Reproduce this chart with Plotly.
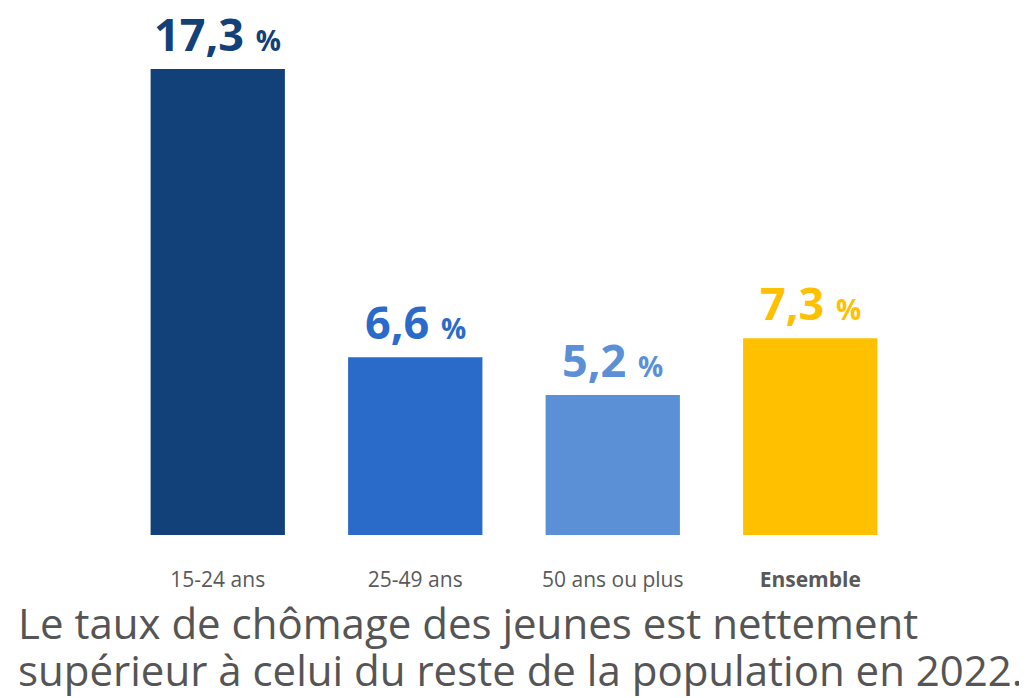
import plotly.graph_objects as go

categories = ["15-24 ans", "25-49 ans", "50 ans ou plus", "Ensemble"]
tick_labels = ["15-24 ans", "25-49 ans", "50 ans ou plus", "<b>Ensemble</b>"]
values = [17.3, 6.6, 5.2, 7.3]
value_labels = ["17,3", "6,6", "5,2", "7,3"]
colors = ["#124078", "#2a6bca", "#5b8fd6", "#ffc000"]
caption_lines = [
    "Le taux de chômage des jeunes est nettement",
    "supérieur à celui du reste de la population en 2022.",
]

fig = go.Figure()
fig.add_trace(go.Bar(
    x=categories, y=values, marker=dict(color=colors, line=dict(width=0)),
    width=0.68, hoverinfo="skip",
))

for c, v, lab, col in zip(categories, values, value_labels, colors):
    fig.add_annotation(
        x=c, y=v, xref="x", yref="y", yanchor="bottom", yshift=3, showarrow=False,
        text=f"<b>{lab}</b> <b><span style='font-size:28px'>%</span></b>",
        font=dict(family="Open Sans", size=45, color=col),
    )

for i, line in enumerate(caption_lines):
    fig.add_annotation(
        x=0, y=0, xref="paper", yref="paper", xanchor="left", yanchor="middle",
        xshift=-103, yshift=-87 - 47 * i, showarrow=False, align="left",
        text=line, font=dict(family="Open Sans", size=42, color="#555555"),
    )

fig.update_layout(
    width=1019, height=690,
    margin=dict(l=111, r=118, t=12, b=163),
    plot_bgcolor="white", paper_bgcolor="white",
    showlegend=False,
)
fig.update_xaxes(
    tickvals=categories, ticktext=tick_labels, showline=False, showgrid=False,
    zeroline=False, ticks="", ticklabelstandoff=30,
    tickfont=dict(family="Open Sans", size=21, color="#595959"),
)
fig.update_yaxes(range=[0, 19.12], visible=False, showgrid=False, zeroline=False)

fig.write_html("out.html")
